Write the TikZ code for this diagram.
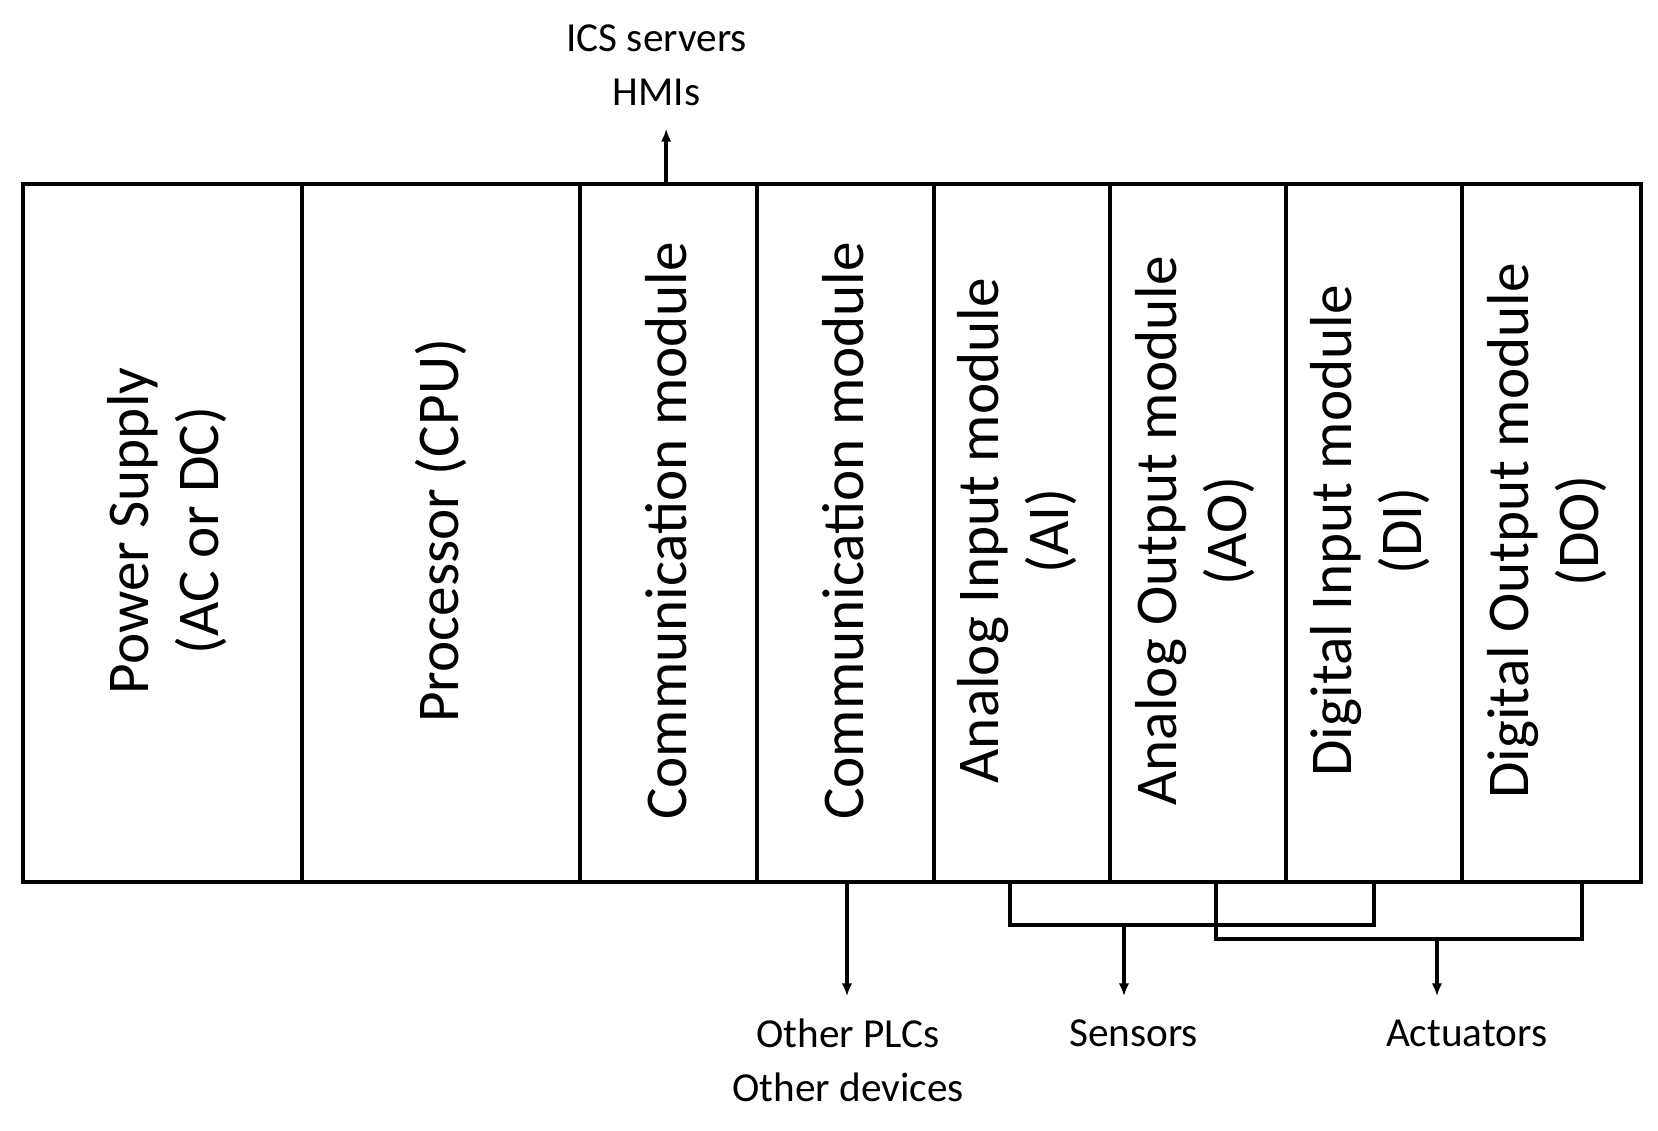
\documentclass[tikz,border=0pt]{standalone}
\usepackage{fontspec}
\setmainfont{Carlito}
\usetikzlibrary{arrows.meta}
\begin{document}
\begin{tikzpicture}[x=0.5pt,y=-0.5pt,
  col/.style={draw,line width=1.9pt,minimum height=330pt,inner sep=0pt,anchor=north west,align=center},
  lab/.style={font=\fontsize{28}{33}\selectfont,rotate=90,align=center},
  ext/.style={font=\fontsize{19.5}{25.5}\selectfont,align=center},
  wire/.style={line width=1.9pt},
  arr/.style={wire,-{Latex[length=6pt,width=5pt]}}]
\useasboundingbox (0,0) rectangle (1568,1069);
\node[col,minimum width=132pt] (ps) at (20,172) {};
\node[col,minimum width=131.5pt] (cpu) at (284,172) {};
\node[col,minimum width=83.5pt] (cm1) at (547,172) {};
\node[col,minimum width=83.5pt] (cm2) at (714,172) {};
\node[col,minimum width=83.5pt] (ai) at (881,172) {};
\node[col,minimum width=83pt] (ao) at (1048,172) {};
\node[col,minimum width=83.5pt] (di) at (1214,172) {};
\node[col,minimum width=84.5pt] (do) at (1381,172) {};
\node[lab] at (158,502) {Power Supply\\(AC or DC)};
\node[lab] at (417,502) {Processor (CPU)};
\node[lab] at (630,502) {Communication module};
\node[lab] at (797,502) {Communication module};
\node[lab] at (962,502) {Analog Input module\\(AI)};
\node[lab] at (1130,502) {Analog Output module\\(AO)};
\node[lab] at (1296,502) {Digital Input module\\(DI)};
\node[lab] at (1463,502) {Digital Output module\\(DO)};
\node[ext] (ics) at (621,62) {ICS servers\\HMIs};
\node[ext] (oth) at (802,1003) {Other PLCs\\Other devices};
\node[ext] (sen) at (1072,977) {Sensors};
\node[ext] (act) at (1387,977) {Actuators};
\coordinate (icsA) at (630,122);
\coordinate (othA) at (801,942);
\coordinate (senA) at (1063,942);
\coordinate (actA) at (1359,942);
\draw[arr] (630,172) -- (icsA);
\draw[arr] (801,832) -- (othA);
\draw[wire] (955,832) -- (955,875) -- (1299,875) -- (1299,832);
\draw[arr] (1063,875) -- (senA);
\draw[wire] (1150,832) -- (1150,888) -- (1496,888) -- (1496,832);
\draw[arr] (1359,888) -- (actA);
\end{tikzpicture}
\end{document}
